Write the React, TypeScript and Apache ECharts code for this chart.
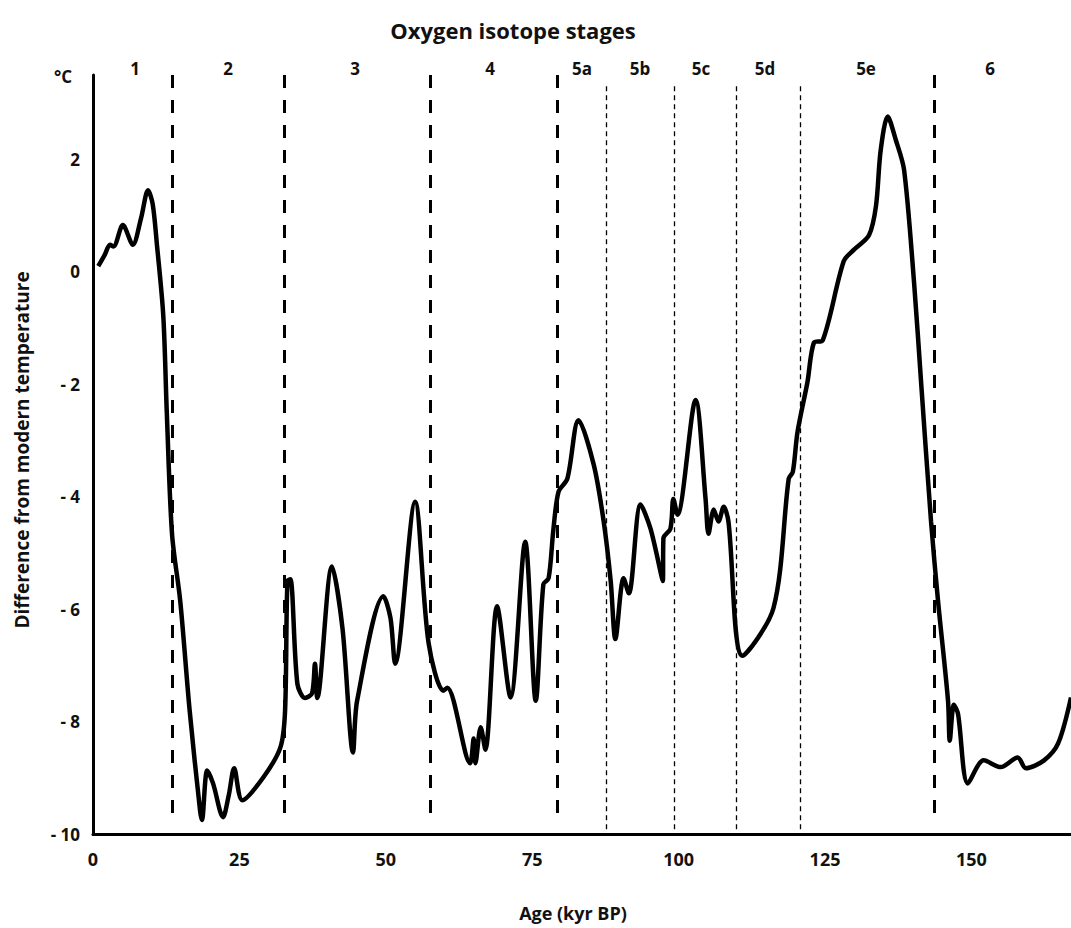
import React, { useEffect, useRef } from "react";
import * as echarts from "echarts";

// Age in thousands of years before present
const ages = [
  0.9, 2.0, 2.9, 3.5, 5.1, 6.8, 8.2, 9.4, 10.2, 10.9, 12.0, 12.6, 13.5, 14.9, 16.5, 18.3, 18.6,
  19.5, 20.5, 22.2, 23.2, 24.1, 25.5, 29.1, 32.0, 32.8, 33.2, 33.7, 34.9, 36.2, 37.4, 37.9, 38.3,
  40.8, 42.6, 44.4, 45.1, 49.6, 50.8, 51.6, 55.0, 57.3, 59.8, 60.5, 64.4, 65.0, 65.3, 66.2, 67.0,
  69.0, 71.3, 73.8, 75.6, 76.9, 77.8, 78.6, 79.5, 81.0, 82.9, 85.5, 87.2, 88.4, 89.2, 90.6, 91.5,
  93.5, 95.2, 97.3, 97.4, 98.6, 99.1, 99.8, 102.9, 104.6, 105.1, 106.0, 106.8, 107.7, 108.5,
  110.9, 116.2, 118.8, 119.5, 120.3, 122.0, 123.1, 124.6, 128.2, 129.9, 132.5, 133.7, 134.5,
  135.7, 137.1, 138.5, 140.2, 141.4, 143.1, 144.3, 146.0, 146.3, 147.0, 147.7, 149.4, 152.1,
  155.0, 157.9, 159.3, 162.4, 164.8, 167.0,
];

// Temperature difference from modern (°C)
const temps = [
  0.1, 0.3, 0.48, 0.45, 0.83, 0.48, 0.95, 1.45, 1.2, 0.5, -0.78, -2.5, -4.67, -5.86, -7.8, -9.6,
  -9.75, -8.87, -9.1, -9.7, -9.3, -8.83, -9.4, -8.99, -8.46, -7.8, -5.5, -5.47, -7.33, -7.58,
  -7.5, -6.97, -7.58, -5.24, -6.34, -8.55, -7.63, -5.77, -6.16, -6.97, -4.09, -6.6, -7.45, -7.4,
  -8.74, -8.3, -8.74, -8.1, -8.5, -5.95, -7.57, -4.8, -7.63, -5.56, -5.45, -4.6, -3.91, -3.68,
  -2.64, -3.43, -4.44, -5.5, -6.53, -5.45, -5.72, -4.14, -4.57, -5.5, -4.74, -4.57, -4.04,
  -4.32, -2.28, -4.04, -4.66, -4.23, -4.44, -4.18, -4.44, -6.83, -5.98, -3.68, -3.56, -2.85,
  -1.96, -1.26, -1.22, 0.19, 0.39, 0.65, 1.17, 2.16, 2.76, 2.34, 1.81, -0.19, -1.96, -4.44,
  -5.86, -7.63, -8.34, -7.7, -7.86, -9.1, -8.69, -8.81, -8.64, -8.83, -8.69, -8.39, -7.57,
];

// Stage boundaries (kyr BP)
const majorBoundaries = [13.5, 32.6, 57.6, 79.2, 143.6];
const substageBoundaries = [87.6, 99.3, 109.9, 120.8];

// Stage labels and their horizontal pixel centres
const stageLabels = ["1", "2", "3", "4", "5a", "5b", "5c", "5d", "5e", "6"];
const stageLabelX = [135, 228, 355, 490, 582, 640, 701, 765, 866, 990];

const FONT = "'Open Sans', 'Noto Sans', sans-serif";

export default function App() {
  const ref = useRef<HTMLDivElement>(null);

  useEffect(() => {
    if (!ref.current) return;
    const chart = echarts.init(ref.current, null, { renderer: "svg" });

    const boundaryLines = [
      ...majorBoundaries.map((x) => [
        { coord: [x, 3.5], lineStyle: { type: [13, 12], width: 3, color: "#000" } },
        { coord: [x, -9.75] },
      ]),
      ...substageBoundaries.map((x) => [
        { coord: [x, 3.3], lineStyle: { type: [5, 4], width: 1.3, color: "#000" } },
        { coord: [x, -10] },
      ]),
    ];

    chart.setOption({
      animation: false,
      backgroundColor: "#fff",
      grid: { left: 93, right: 0, top: 75, bottom: 94, containLabel: false },
      xAxis: {
        type: "value",
        min: 0,
        max: 167,
        interval: 25,
        axisLine: { show: true, onZero: false, lineStyle: { color: "#000", width: 3 } },
        axisTick: { show: false },
        splitLine: { show: false },
        axisLabel: {
          showMaxLabel: false,
          margin: 16,
          color: "#111",
          fontSize: 18,
          fontWeight: "bold",
          fontFamily: FONT,
        },
      },
      yAxis: {
        type: "value",
        min: -10,
        max: 3.5,
        interval: 2,
        axisLine: { show: true, onZero: false, lineStyle: { color: "#000", width: 3 } },
        axisTick: { show: false },
        splitLine: { show: false },
        axisLabel: {
          showMaxLabel: false,
          margin: 13,
          color: "#111",
          fontSize: 17,
          fontWeight: "bold",
          fontFamily: FONT,
          formatter: (v: number) => (v < 0 ? "- " + Math.abs(v) : String(v)),
        },
      },
      series: [
        {
          type: "line",
          data: ages.map((a, i) => [a, temps[i]]),
          smooth: 0.3,
          symbol: "none",
          lineStyle: { color: "#000", width: 4.5 },
          z: 3,
          markLine: {
            silent: true,
            symbol: ["none", "none"],
            label: { show: false },
            data: boundaryLines,
            z: 2,
          },
        },
      ],
      graphic: [
        {
          type: "text",
          x: 513,
          y: 30,
          style: {
            text: "Oxygen isotope stages",
            font: `bold 22px ${FONT}`,
            fill: "#111",
            textAlign: "center",
            textVerticalAlign: "middle",
          },
        },
        ...stageLabels.map((s, i) => ({
          type: "text",
          x: stageLabelX[i],
          y: 68,
          style: {
            text: s,
            font: `bold 17px ${FONT}`,
            fill: "#111",
            textAlign: "center",
            textVerticalAlign: "middle",
          },
        })),
        {
          type: "text",
          x: 63,
          y: 76,
          style: {
            text: "°C",
            font: `bold 17px ${FONT}`,
            fill: "#111",
            textAlign: "center",
            textVerticalAlign: "middle",
          },
        },
        {
          type: "text",
          x: 22,
          y: 450,
          rotation: Math.PI / 2,
          style: {
            text: "Difference from modern temperature",
            font: `bold 19px ${FONT}`,
            fill: "#111",
            textAlign: "center",
            textVerticalAlign: "middle",
          },
        },
        {
          type: "text",
          x: 573,
          y: 913,
          style: {
            text: "Age (kyr BP)",
            font: `bold 18px ${FONT}`,
            fill: "#111",
            textAlign: "center",
            textVerticalAlign: "middle",
          },
        },
      ],
    });

    return () => chart.dispose();
  }, []);

  return (
    <div
      ref={ref}
      style={{ position: "fixed", left: 0, top: 0, width: 1071, height: 928, background: "#fff" }}
    />
  );
}
